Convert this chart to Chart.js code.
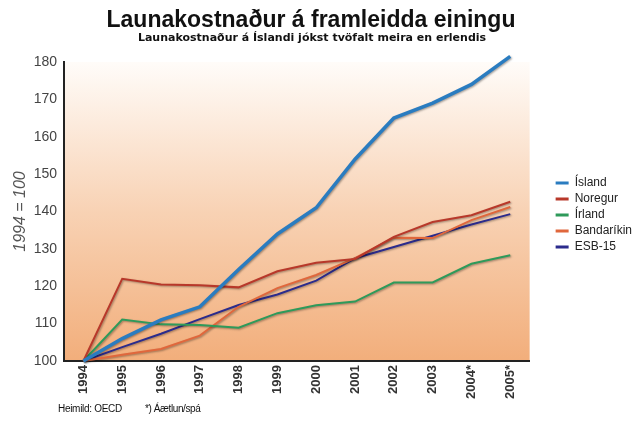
<!DOCTYPE html>
<html>
<head>
<meta charset="utf-8">
<title>Launakostnaður á framleidda einingu</title>
<script src="https://cdn.jsdelivr.net/npm/chart.js@4.4.1/dist/chart.umd.min.js"></script>
<style>
    body { margin: 0; background: #fff; }
    #wrap { position: relative; width: 642px; height: 427px; font-family: "Liberation Sans", Arial, sans-serif; color: #111; }
    #grafid { position: absolute; left: 0; top: 0; }
    .texti { position: absolute; white-space: nowrap; }
    #titill { top: 6px; left: 0; width: 622px; text-align: center; font-weight: bold; font-size: 23px; line-height: 26px; }
    #undirtitill { top: 31px; left: 0; width: 624px; text-align: center; font-weight: bold; font-size: 11px; line-height: 14px; font-family: "DejaVu Sans", sans-serif; }
    #heimild { top: 403px; left: 58px; font-size: 10px; letter-spacing: -0.3px; }
    #aaetlun { top: 403px; left: 145px; font-size: 10px; letter-spacing: -0.4px; }
</style>
</head>
<body>
<div id="wrap">
    <canvas id="grafid" width="642" height="427"></canvas>
    <div class="texti" id="titill">Launakostnaður á framleidda einingu</div>
    <div class="texti" id="undirtitill">Launakostnaður á Íslandi jókst tvöfalt meira en erlendis</div>
    <div class="texti" id="heimild">Heimild: OECD</div>
    <div class="texti" id="aaetlun">*) Áætlun/spá</div>
</div>
<script>
const ar = ['1994', '1995', '1996', '1997', '1998', '1999', '2000', '2001', '2002', '2003', '2004*', '2005*'];

const island = [100, 106, 111, 114.5, 124.5, 134, 141, 154, 165, 169, 174, 181.5];
const noregur = [100, 122, 120.5, 120.3, 119.7, 124, 126.3, 127.3, 133.2, 137.2, 139, 142.6];
const irland = [100, 111.1, 109.8, 109.6, 108.9, 112.8, 114.9, 115.9, 121, 121, 126, 128.3];
const bandarikin = [100, 101.7, 103.2, 106.8, 114.5, 119.5, 123, 127.5, 133, 132.9, 137.7, 141.2];
const esb = [100, 103.7, 107.3, 111.2, 115, 117.8, 121.5, 127.5, 130.5, 133.5, 136.5, 139.3];

const yTicks = [100, 110, 120, 130, 140, 150, 160, 170, 180];

window.onload = function () {
    teiknaGraf();
}

// appelsinugulur bakgrunnur i teiknisvaedinu
const bakgrunnur = {
    id: 'bakgrunnur',
    beforeDraw(chart) {
        const { ctx, chartArea: a } = chart;
        const g = ctx.createLinearGradient(0, a.top, 0, a.bottom);
        g.addColorStop(0, '#fffcf9');
        g.addColorStop(0.5, '#f8d2b4');
        g.addColorStop(1, '#f2ae7b');
        ctx.save();
        ctx.fillStyle = g;
        ctx.fillRect(a.left, a.top, a.right - a.left, a.bottom - a.top);
        ctx.restore();
    }
};

const skuggi = {
    id: 'skuggi',
    beforeDatasetsDraw(chart) {
        const ctx = chart.ctx;
        ctx.save();
        ctx.shadowColor = 'rgba(0,0,0,0.35)';
        ctx.shadowBlur = 2;
        ctx.shadowOffsetX = 1;
        ctx.shadowOffsetY = 1;
    },
    afterDatasetsDraw(chart) {
        chart.ctx.restore();
    }
};

function lina(nafn, gogn, litur, breidd) {
    return {
        label: nafn,
        data: gogn,
        borderColor: litur,
        backgroundColor: litur,
        borderWidth: breidd,
        pointRadius: 0,
        tension: 0,
        clip: false
    };
}

function teiknaGraf() {
    const ctx = document.getElementById('grafid').getContext('2d');
    const myChart = new Chart(ctx, {
        type: 'line',
        data: {
            labels: ar,
            datasets: [
                lina('Ísland', island, '#2a7cc0', 3.5),
                lina('Noregur', noregur, '#b8382a', 2),
                lina('Írland', irland, '#2e9a5a', 2),
                lina('Bandaríkin', bandarikin, '#e0673c', 2),
                lina('ESB-15', esb, '#2b2b8c', 2)
            ]
        },
        options: {
            responsive: false,
            animation: false,
            layout: {
                padding: { top: 62, bottom: 22, left: 0, right: 0 }
            },
            plugins: {
                title: { display: false },
                tooltip: { enabled: false },
                legend: {
                    position: 'right',
                    fullSize: false,
                    // tomur titill til ad yta lyklinum adeins nidur
                    title: { display: true, text: '', padding: 0, font: { size: 6 } },
                    labels: {
                        font: { family: 'Liberation Sans', size: 12 },
                        color: '#222',
                        boxWidth: 13,
                        boxHeight: 3,
                        padding: 4,
                        generateLabels(chart) {
                            return Chart.defaults.plugins.legend.labels.generateLabels(chart).map(l => {
                                l.lineWidth = 0;
                                return l;
                            });
                        }
                    }
                }
            },
            scales: {
                x: {
                    offset: true,
                    grid: { display: false, drawTicks: false },
                    border: { display: true, color: '#222', width: 2 },
                    ticks: {
                        minRotation: 90,
                        maxRotation: 90,
                        padding: 4,
                        color: '#333',
                        font: { family: 'Liberation Sans', size: 13, weight: 'bold' }
                    },
                    afterFit(scale) { scale.height = 44; }
                },
                y: {
                    min: 100,
                    max: 180,
                    afterBuildTicks(scale) { scale.ticks = yTicks.map(v => ({ value: v })); },
                    grid: { display: false, drawTicks: false },
                    border: { display: true, color: '#222', width: 2 },
                    ticks: {
                        padding: 7,
                        color: '#444',
                        font: { family: 'Liberation Sans', size: 14 }
                    },
                    title: {
                        display: true,
                        text: '1994 = 100',
                        color: '#555',
                        padding: { top: 11, bottom: 0 },
                        font: { family: 'Liberation Sans', size: 16, style: 'italic' }
                    },
                    afterFit(scale) { scale.width = 64; }
                },
                hlid: {
                    position: 'right',
                    grid: { display: false, drawTicks: false },
                    border: { display: false },
                    ticks: { display: false },
                    afterFit(scale) { scale.width = 22; }
                }
            }
        },
        plugins: [bakgrunnur, skuggi]
    });
}
</script>
</body>
</html>
